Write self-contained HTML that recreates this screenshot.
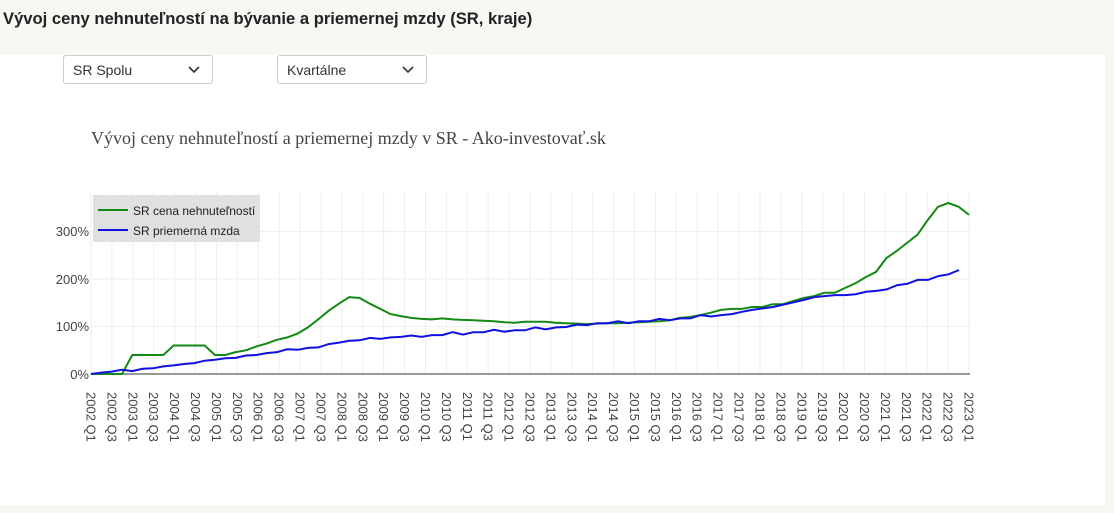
<!DOCTYPE html>
<html><head><meta charset="utf-8"><style>
body{margin:0;width:1114px;height:513px;background:#f8f7f4;font-family:"Liberation Sans",sans-serif;overflow:hidden;position:relative}
h1{position:absolute;left:3px;top:9px;margin:0;font-size:16.6px;font-weight:bold;color:#222}
.panel{position:absolute;left:0;top:55px;width:1105px;height:450px;background:#fff}
.sel{position:absolute;top:55px;height:29px;border:1px solid #ccc;border-radius:3px;background:#fff;font-size:14px;color:#333;box-sizing:border-box;padding:6px 9px}
.sel svg{position:absolute;right:12px;top:10px}
svg text{font-family:"Liberation Sans",sans-serif}
</style></head><body>
<h1>Vývoj ceny nehnuteľností na bývanie a priemernej mzdy (SR, kraje)</h1>
<div class="panel"></div>
<div class="sel" style="left:63px;width:150px">SR Spolu<svg width="12" height="8"><path d="M1 1L6 6L11 1" stroke="#333" stroke-width="1.6" fill="none"/></svg></div>
<div class="sel" style="left:277px;width:150px">Kvartálne<svg width="12" height="8"><path d="M1 1L6 6L11 1" stroke="#333" stroke-width="1.6" fill="none"/></svg></div>
<svg id="c" width="1114" height="513" style="position:absolute;left:0;top:0">
<text x="91" y="144" style="font-family:'Liberation Serif',serif" font-size="18" fill="#444">Vývoj ceny nehnuteľností a priemernej mzdy v SR - Ako-investovať.sk</text>
<g id="grid"></g>
<line x1="91" y1="326.5" x2="970" y2="326.5" stroke="#eee"/>
<line x1="91" y1="279" x2="970" y2="279" stroke="#eee"/>
<line x1="91" y1="231.5" x2="970" y2="231.5" stroke="#eee"/>
<line x1="91" y1="374" x2="970" y2="374" stroke="#333"/>
<g font-size="13" fill="#444" text-anchor="end">
<text x="89" y="379">0%</text><text x="89" y="331">100%</text><text x="89" y="284">200%</text><text x="89" y="236">300%</text>
</g>
<g id="xl" font-size="13" fill="#444">
<text>2002 Q1</text><text>2002 Q3</text><text>2003 Q1</text><text>2003 Q3</text><text>2004 Q1</text><text>2004 Q3</text><text>2005 Q1</text><text>2005 Q3</text><text>2006 Q1</text><text>2006 Q3</text><text>2007 Q1</text><text>2007 Q3</text><text>2008 Q1</text><text>2008 Q3</text><text>2009 Q1</text><text>2009 Q3</text><text>2010 Q1</text><text>2010 Q3</text><text>2011 Q1</text><text>2011 Q3</text><text>2012 Q1</text><text>2012 Q3</text><text>2013 Q1</text><text>2013 Q3</text><text>2014 Q1</text><text>2014 Q3</text><text>2015 Q1</text><text>2015 Q3</text><text>2016 Q1</text><text>2016 Q3</text><text>2017 Q1</text><text>2017 Q3</text><text>2018 Q1</text><text>2018 Q3</text><text>2019 Q1</text><text>2019 Q3</text><text>2020 Q1</text><text>2020 Q3</text><text>2021 Q1</text><text>2021 Q3</text><text>2022 Q1</text><text>2022 Q3</text><text>2023 Q1</text>
</g>
<polyline id="g" fill="none" stroke="#138a13" stroke-width="2"/>
<polyline id="b" fill="none" stroke="#1010e0" stroke-width="2"/>
<rect x="93" y="195" width="167" height="47" fill="#e0e0e0"/>
<line x1="98" y1="210" x2="128" y2="210" stroke="#138a13" stroke-width="2"/>
<line x1="98" y1="230" x2="128" y2="230" stroke="#1010e0" stroke-width="2"/>
<text x="133" y="215" font-size="12" fill="#222">SR cena nehnuteľností</text>
<text x="133" y="235" font-size="12" fill="#222">SR priemerná mzda</text>
</svg>
<script>
var x0=91,dx=(969-91)/84,y0=374,k=0.475;
var G=[0,0,0,0,40,40,40,40,60,60,60,60,40,40,46,50,58,64,72,77,85,98,115,133,148,162,160,148,137,126,122,118,116,115,117,115,114,113,112,111,109,108,110,110,110,108,107,106,105,106,107,107,108,109,110,111,113,118,120,124,129,135,137,137,141,141,147,147,154,160,164,171,171,181,191,204,215,244,259,276,293,324,352,360,352,335];
var B=[0,3,5,9,6,11,12,16,18,21,23,28,30,33,34,39,40,44,46,52,51,55,56,63,66,70,71,76,74,77,78,81,78,82,82,88,83,88,88,93,89,92,92,98,94,98,99,104,103,107,107,111,107,111,111,116,113,117,117,124,121,124,126,131,135,138,141,146,151,156,162,164,166,166,168,173,175,178,187,190,198,198,206,210,219];
function pts(a,end){var d=(end-x0)/(a.length-1);return a.map(function(v,i){return (x0+i*d).toFixed(1)+","+(y0-v*k).toFixed(1)}).join(" ")}
document.getElementById("g").setAttribute("points",pts(G,969));
document.getElementById("b").setAttribute("points",pts(B,959));
var gr="";for(var i=0;i<=84;i+=2){var x=x0+i*dx;gr+='<line x1="'+x+'" y1="192" x2="'+x+'" y2="374" stroke="#eee"/>';}
document.getElementById("grid").innerHTML=gr;
var t=document.querySelectorAll("#xl text");t.forEach(function(e,i){var x=x0+i*2*dx-4.5;e.setAttribute("transform","translate("+x+",392) rotate(90)");});
</script>
</body></html>
